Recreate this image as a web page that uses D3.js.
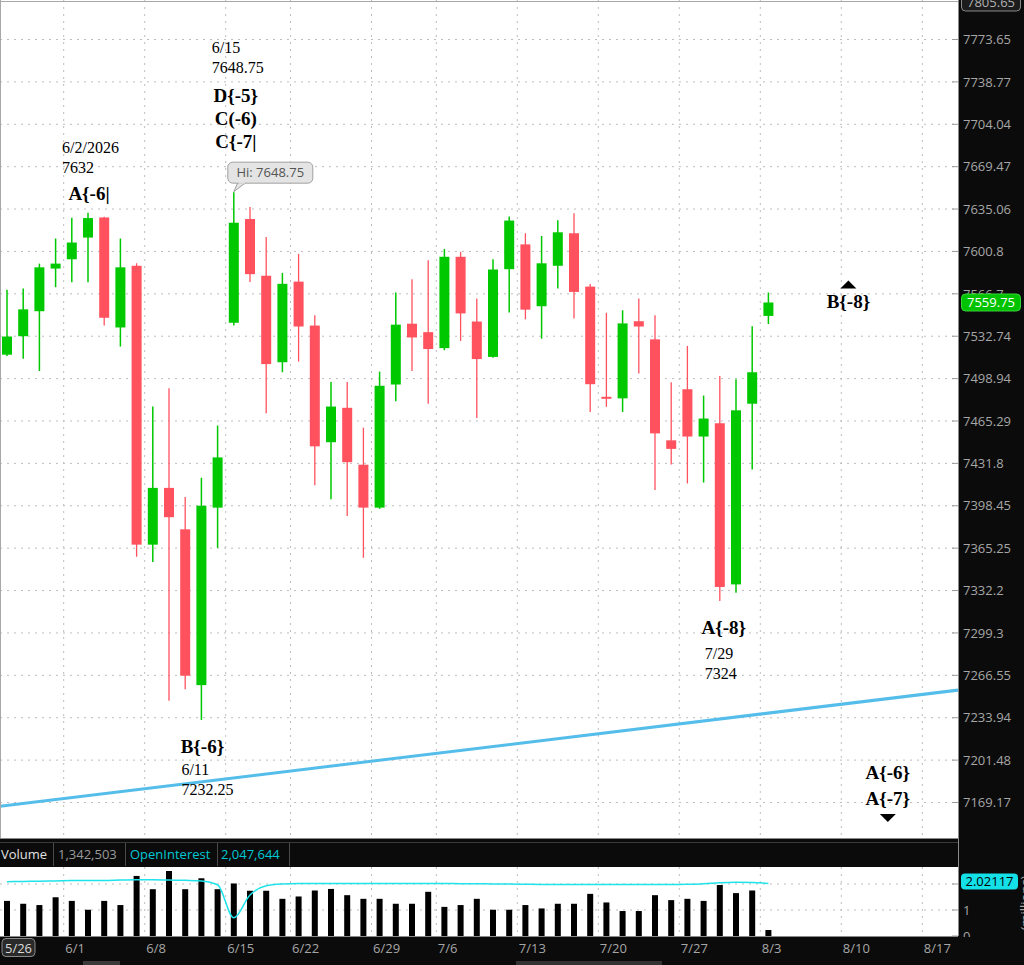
<!DOCTYPE html>
<html>
<head>
<meta charset="utf-8">
<script src="https://cdnjs.cloudflare.com/ajax/libs/d3/7.8.5/d3.min.js"></script>
<style>
  body { margin: 0; background: #fff; overflow: hidden; }
  svg { display: block; }
</style>
</head>
<body>
<div id="chart"></div>
<script>
// trading days shown on the chart (last ones are empty future slots)
const dates = ["5/26","5/27","5/28","5/29","6/1","6/2","6/3","6/4","6/5","6/8","6/9","6/10","6/11","6/12",
  "6/15","6/16","6/17","6/18","6/22","6/23","6/24","6/25","6/26","6/29","6/30","7/1","7/2","7/6","7/7","7/8",
  "7/9","7/10","7/13","7/14","7/15","7/16","7/17","7/20","7/21","7/22","7/23","7/24","7/27","7/28","7/29",
  "7/30","7/31","8/3","8/4","8/5","8/6","8/7","8/10","8/11","8/12","8/13","8/14","8/17","8/18"]
const weekStarts = ["5/26","6/1","6/8","6/15","6/22","6/29","7/6","7/13","7/20","7/27","8/3","8/10","8/17"]

const opens  = [7518,7532.75,7552.75,7587,7594.5,7612,7628.25,7539.75,7589.25,7368,7412.5,7380,7259,7397,
  7543.5,7627,7581.25,7512,7576.5,7541.25,7448.5,7475.75,7430.75,7397,7494.25,7542.75,7536,7523.25,7596.5,
  7544.5,7516.25,7586.5,7606.5,7556.75,7589.25,7615.5,7572.5,7484.5,7483.25,7544.75,7530.25,7450,7490.5,
  7453,7463.5,7337,7479,7549]
const highs  = [7570,7571,7591,7611.25,7628,7632,7628.75,7611.25,7591.25,7476.75,7491.25,7405.25,7420.5,7461.75,
  7648.75,7636.75,7612.5,7583.5,7598.75,7549.5,7496.25,7496.25,7460,7504.5,7567.75,7578.5,7593.75,7602.75,
  7600.5,7563,7594.5,7629,7615.5,7613.25,7626,7631.75,7574.5,7551.5,7553.5,7563,7549.5,7496,7525,7485.5,
  7501,7498.5,7540.75,7567.75]
const lows   = [7517,7514.75,7505,7572,7576,7576,7541.25,7524.5,7358.5,7354.5,7247,7255.75,7232.25,7365.5,
  7541.25,7576.25,7471.5,7504,7512.5,7414.5,7403.5,7390.5,7357.75,7396,7481,7505,7479,7521.5,7529,7467.75,
  7515.5,7551.75,7546.25,7530.75,7571,7547,7472.5,7476.5,7472.5,7503,7410.75,7431,7416,7416.75,7324,
  7330.5,7427,7542.5]
const closes = [7532.5,7554.25,7588,7591,7608,7627.75,7547.5,7588,7368,7412.5,7389.5,7266.25,7398.5,7436.5,
  7624,7582.5,7510.5,7574.75,7540.5,7445.25,7476.75,7432.75,7397,7493.25,7542,7531.75,7522.5,7596.5,7551,
  7514.5,7586.25,7625.75,7554,7591.25,7616.25,7568.25,7494.5,7483,7543,7540.5,7455.5,7443.25,7453,7467.25,
  7335,7473.75,7504,7559.75]

// volume and open interest, millions
const volumes = [1.35,1.24,1.19,1.49,1.35,1.01,1.35,1.19,2.31,1.80,2.50,1.80,2.22,1.80,2.02,1.74,1.74,1.43,
  1.52,1.75,1.81,1.57,1.43,1.43,1.24,1.24,1.70,1.12,1.19,1.43,1.01,1.01,1.19,1.06,1.24,1.24,1.62,1.29,0.96,
  0.96,1.57,1.38,1.43,1.35,1.96,1.65,1.75,0.23]
const openInterest = [2.09,2.10,2.11,2.12,2.13,2.13,2.13,2.15,2.16,2.16,2.15,2.14,2.12,1.97,0.70,1.58,1.93,
  2.00,2.02,2.02,2.02,2.02,2.02,2.02,2.02,2.02,2.02,2.02,2.01,2.01,2.00,2.00,1.99,1.98,1.98,1.98,1.98,1.98,
  1.98,1.98,1.98,1.98,1.99,2.01,2.05,2.07,2.06,2.02117]

const priceTicks = [7773.65,7738.77,7704.04,7669.47,7635.06,7600.8,7566.7,7532.74,7498.94,7465.29,7431.8,
  7398.45,7365.25,7332.2,7299.3,7266.55,7233.94,7201.48,7169.17]
const topPrice = 7805.65
const volTicks = [0, 1, 2]

// trendline anchors (bar index, price)
const trendIdx = [0, 58]
const trendPrice = [7167, 7254.1]

const swingNotes = [["6/2/2026","7632"], ["6/15","7648.75"], ["6/11","7232.25"], ["7/29","7324"]]
const swingTags = [["A{-6|"], ["D{-5}","C(-6)","C{-7|"], ["B{-6}"], ["A{-8}"]]
const futureTagUp = "B{-8}"
const futureTagsDown = ["A{-6}","A{-7}"]

const volHeader = ["Volume", "1,342,503", "OpenInterest", "2,047,644"]

const width = 1024, height = 965
const plotRight = 958, mainBottom = 838
const volTop = 867, volBottom = 936

const green = "#00c800", red = "#ff525e"
const grid = "#bdbdbd"
const serif = "'Liberation Serif', 'Times New Roman', serif"

let svg = d3.select("#chart").append("svg")
  .attr("width", width)
  .attr("height", height)
  .style("font-family", "'Open Sans', sans-serif")

let x = d3.scaleLinear().domain([0, 58]).range([7, 7 + 58 * 16.2])
let step = x(1) - x(0)
let y = d3.scaleLog().domain([7169.17, 7773.65]).range([802.5, 39.5])
let yVol = d3.scaleLinear().domain([0, 1]).range([volBottom, volBottom - 26])

let weekIdx = weekStarts.map(d => dates.indexOf(d))
let gx = i => x(i) - step / 2

svg.append("defs").append("clipPath").attr("id", "main-clip")
  .append("rect").attr("x", 0).attr("y", 0).attr("width", plotRight).attr("height", mainBottom)

// ---- main price panel ----
let main = svg.append("g").attr("clip-path", "url(#main-clip)")

main.selectAll(".hgrid")
  .data(priceTicks)
  .enter()
  .append("line")
  .attr("x1", 0).attr("x2", plotRight)
  .attr("y1", d => y(d)).attr("y2", d => y(d))
  .attr("stroke", grid).attr("stroke-dasharray", "2,5")

main.selectAll(".vgrid")
  .data(weekIdx)
  .enter()
  .append("line")
  .attr("x1", d => gx(d)).attr("x2", d => gx(d))
  .attr("y1", 0).attr("y2", mainBottom)
  .attr("stroke", grid).attr("stroke-dasharray", "2,5")

// trendline, straight on the log scale
let lt0 = Math.log(trendPrice[0]), lt1 = Math.log(trendPrice[1])
let trendAt = i => Math.exp(lt0 + (lt1 - lt0) * (i - trendIdx[0]) / (trendIdx[1] - trendIdx[0]))
let iLeft = x.invert(0), iRight = x.invert(plotRight)
main.append("line")
  .attr("x1", 0).attr("y1", y(trendAt(iLeft)))
  .attr("x2", plotRight).attr("y2", y(trendAt(iRight)))
  .attr("stroke", "#55bdea").attr("stroke-width", 3)

// candles
let candles = main.selectAll(".candle")
  .data(opens.map((o, i) => ({ i: i, o: o, h: highs[i], l: lows[i], c: closes[i] })))
  .enter()
  .append("g")

candles.append("line")
  .attr("x1", d => x(d.i)).attr("x2", d => x(d.i))
  .attr("y1", d => y(d.h)).attr("y2", d => y(d.l))
  .attr("stroke", d => d.c >= d.o ? green : red)
  .attr("stroke-width", d => d.c >= d.o ? 1.5 : 1.3)

candles.append("rect")
  .attr("x", d => x(d.i) - 5)
  .attr("width", 10)
  .attr("y", d => y(Math.max(d.o, d.c)))
  .attr("height", d => Math.max(2, Math.abs(y(d.o) - y(d.c))))
  .attr("fill", d => d.c >= d.o ? green : red)

// frame lines
svg.append("line").attr("x1", 0.5).attr("x2", 0.5).attr("y1", 0).attr("y2", mainBottom).attr("stroke", "#a8a8a8")
svg.append("line").attr("x1", 0).attr("x2", plotRight).attr("y1", 1.5).attr("y2", 1.5).attr("stroke", "#a8a8a8")

// ---- annotations ----
function notes(x0, ys, lines) {
  lines.forEach((t, k) => {
    svg.append("text").attr("x", x0).attr("y", ys[k])
      .attr("font-family", serif).attr("font-size", 16).attr("fill", "#000").text(t)
  })
}
function tags(cx, ys, lines) {
  lines.forEach((t, k) => {
    svg.append("text").attr("x", cx).attr("y", ys[k]).attr("text-anchor", "middle")
      .attr("font-family", serif).attr("font-size", 19).attr("font-weight", "bold").attr("fill", "#000").text(t)
  })
}

let h5 = y(highs[5])
notes(x(5) - 26, [h5 - 60, h5 - 40], swingNotes[0])
tags(x(5) + 1, [h5 - 13], swingTags[0])

let h14 = y(highs[14])
notes(x(14) - 22, [h14 - 139, h14 - 119], swingNotes[1])
tags(x(14) + 2, [h14 - 90, h14 - 67, h14 - 44], swingTags[1])

let l12 = y(lows[12])
tags(x(12) + 1, [l12 + 33], swingTags[2])
notes(x(12) - 20, [l12 + 55, l12 + 75], swingNotes[2])

let l44 = y(lows[44])
tags(x(44) + 4, [l44 + 33], swingTags[3])
notes(x(44) - 15, [l44 + 58, l44 + 78], swingNotes[3])

// future marks
let bx = x(52) - 1, by = y(closes[closes.length - 1])
svg.append("path").attr("d", `M${bx - 8},${by - 14} L${bx},${by - 22} L${bx + 8},${by - 14} Z`).attr("fill", "#000")
tags(bx, [by + 6], [futureTagUp])

let ax = x(54) + 6
tags(ax, [mainBottom - 59, mainBottom - 33], futureTagsDown)
svg.append("path").attr("d", `M${ax - 8},${mainBottom - 24} L${ax + 8},${mainBottom - 24} L${ax},${mainBottom - 16} Z`).attr("fill", "#000")

// high tooltip on 6/15
let tx = x(14)
let tip = svg.append("g")
tip.append("path")
  .attr("d", `M${tx + 4},${h14 - 9.5} L${tx},${h14 - 0.5} L${tx + 12},${h14 - 9.5}`)
  .attr("fill", "#e4e4e4").attr("stroke", "#a0a0a0")
tip.append("rect")
  .attr("x", tx - 6).attr("y", h14 - 30).attr("width", 85).attr("height", 21).attr("rx", 5)
  .attr("fill", "#e4e4e4").attr("stroke", "#a0a0a0")
tip.append("rect").attr("x", tx + 4.8).attr("y", h14 - 10).attr("width", 6.4).attr("height", 1.5).attr("fill", "#e4e4e4")
tip.append("text").attr("x", tx + 36.5).attr("y", h14 - 15).attr("text-anchor", "middle")
  .attr("font-size", 13).attr("fill", "#555").text("Hi: " + highs[14])

// ---- volume header bar ----
svg.append("rect").attr("x", 0).attr("y", mainBottom).attr("width", width).attr("height", volTop - mainBottom).attr("fill", "#0b0b0b")
svg.append("line").attr("x1", 0).attr("x2", plotRight).attr("y1", mainBottom + 0.5).attr("y2", mainBottom + 0.5).attr("stroke", "#8a8a8a")
svg.append("line").attr("x1", 0).attr("x2", plotRight).attr("y1", 842.5).attr("y2", 842.5).attr("stroke", "#3a3a3a")
let headX = [1, 58, 130, 221]
let headColor = ["#e2e2e2", "#9a9a9a", "#00c8d2", "#00c8d2"]
volHeader.forEach((t, k) => {
  svg.append("text").attr("x", headX[k]).attr("y", 858.5).attr("font-size", 13)
    .attr("fill", headColor[k]).text(t)
})
;[53.5, 125.5, 217.5, 289.5].forEach(sx => {
  svg.append("line").attr("x1", sx).attr("x2", sx).attr("y1", 843).attr("y2", volTop - 1).attr("stroke", "#4a4a4a")
})

// ---- volume panel ----
let vol = svg.append("g")
vol.append("rect").attr("x", 0).attr("y", volTop).attr("width", plotRight).attr("height", volBottom - volTop).attr("fill", "#fff")
vol.selectAll(".vh")
  .data(volTicks.slice(1))
  .enter()
  .append("line")
  .attr("x1", 0).attr("x2", plotRight)
  .attr("y1", d => yVol(d)).attr("y2", d => yVol(d))
  .attr("stroke", grid).attr("stroke-dasharray", "2,5")
vol.selectAll(".vv")
  .data(weekIdx)
  .enter()
  .append("line")
  .attr("x1", d => gx(d)).attr("x2", d => gx(d))
  .attr("y1", volTop).attr("y2", volBottom)
  .attr("stroke", grid).attr("stroke-dasharray", "2,5")

vol.selectAll(".vbar")
  .data(volumes)
  .enter()
  .append("rect")
  .attr("x", (d, i) => x(i) - 3)
  .attr("width", 6)
  .attr("y", d => yVol(d))
  .attr("height", d => volBottom - yVol(d))
  .attr("fill", "#000")

let oiLine = d3.line()
  .x((d, i) => x(i))
  .y(d => yVol(d))
  .curve(d3.curveMonotoneX)
vol.append("path")
  .datum(openInterest)
  .attr("d", oiLine)
  .attr("fill", "none")
  .attr("stroke", "#1fe3ea")
  .attr("stroke-width", 1.5)

// ---- right price axis ----
svg.append("rect").attr("x", plotRight).attr("y", 0).attr("width", width - plotRight).attr("height", height).attr("fill", "#0b0b0b")
svg.append("line").attr("x1", plotRight + 0.5).attr("x2", plotRight + 0.5).attr("y1", 0).attr("y2", volBottom).attr("stroke", "#8a8a8a")

svg.selectAll(".ptick")
  .data(priceTicks)
  .enter()
  .append("line")
  .attr("x1", 952).attr("x2", plotRight)
  .attr("y1", d => y(d)).attr("y2", d => y(d))
  .attr("stroke", "#9a9a9a")

let yAxis = d3.axisRight(y).tickValues(priceTicks).tickSize(0).tickPadding(5).tickFormat(d => String(d))
let yAxisG = svg.append("g").attr("transform", `translate(${plotRight},0)`).call(yAxis)
yAxisG.select(".domain").remove()
yAxisG.selectAll("text").attr("fill", "#a6a6a6").attr("font-size", 13).attr("font-family", "'Open Sans', sans-serif")

// top of range box
svg.append("rect").attr("x", 961.5).attr("y", -6).attr("width", 59).attr("height", 17).attr("rx", 4)
  .attr("fill", "#1c1c1c").attr("stroke", "#8a8a8a")
svg.append("text").attr("x", 991).attr("y", 7).attr("text-anchor", "middle").attr("font-size", 13)
  .attr("fill", "#b0b0b0").text(topPrice)

// last price box
let lastY = y(closes[closes.length - 1])
svg.append("rect").attr("x", 961.5).attr("y", lastY - 8.5).attr("width", 59).attr("height", 17).attr("rx", 4)
  .attr("fill", "#00c300").attr("stroke", "#3ad43a")
svg.append("text").attr("x", 991).attr("y", lastY + 4.5).attr("text-anchor", "middle").attr("font-size", 13)
  .attr("fill", "#fff").text(closes[closes.length - 1])

// volume axis
let vAxis = d3.axisRight(yVol).tickValues(volTicks).tickSize(0).tickPadding(5).tickFormat(d3.format("d"))
let vAxisG = svg.append("g").attr("transform", `translate(${plotRight},0)`).call(vAxis)
vAxisG.select(".domain").remove()
vAxisG.selectAll("text").attr("fill", "#a6a6a6").attr("font-size", 13).attr("font-family", "'Open Sans', sans-serif")
vAxisG.selectAll(".tick").filter(d => d === 2).remove()
svg.selectAll(".vtick")
  .data(volTicks)
  .enter()
  .append("line")
  .attr("x1", 952).attr("x2", plotRight)
  .attr("y1", d => yVol(d)).attr("y2", d => yVol(d))
  .attr("stroke", "#9a9a9a")

let oiLast = openInterest[openInterest.length - 1]
let oiY = yVol(oiLast) - 2
svg.append("rect").attr("x", 961).attr("y", oiY - 8).attr("width", 57).attr("height", 16).attr("rx", 4).attr("fill", "#14e0e8")
svg.append("text").attr("x", 989.5).attr("y", oiY + 4.5).attr("text-anchor", "middle").attr("font-size", 13)
  .attr("fill", "#000").text(oiLast)

svg.append("text").attr("transform", "translate(1030,903) rotate(-90)").attr("text-anchor", "middle")
  .attr("font-size", 13).attr("fill", "#a6a6a6").text("(millions)")

// ---- date axis ----
svg.append("rect").attr("x", 0).attr("y", volBottom + 1).attr("width", width).attr("height", height - volBottom - 1).attr("fill", "#0b0b0b")
svg.append("line").attr("x1", 0).attr("x2", plotRight).attr("y1", volBottom + 0.5).attr("y2", volBottom + 0.5).attr("stroke", "#8a8a8a")

let xAxis = d3.axisBottom(x).tickValues(weekIdx.slice(1)).tickSize(0).tickFormat(i => dates[i])
let xAxisG = svg.append("g").attr("transform", `translate(0,${volBottom})`).call(xAxis)
xAxisG.select(".domain").remove()
xAxisG.selectAll("text")
  .attr("text-anchor", "start")
  .attr("x", -step / 2 + 1)
  .attr("y", 17).attr("dy", null)
  .attr("fill", "#a6a6a6").attr("font-size", 13).attr("font-family", "'Open Sans', sans-serif")

svg.append("rect").attr("x", 2).attr("y", 938.5).attr("width", 33).attr("height", 18).attr("rx", 4)
  .attr("fill", "#2a2a2a").attr("stroke", "#8a8a8a")
svg.append("text").attr("x", 18.5).attr("y", 953).attr("text-anchor", "middle").attr("font-size", 13)
  .attr("fill", "#dcdcdc").text(dates[0])

// scrollbar bits along the bottom edge
svg.append("rect").attr("x", 83).attr("y", 961).attr("width", 37).attr("height", 4).attr("fill", "#3a3a3a")
svg.append("rect").attr("x", 516).attr("y", 961).attr("width", 146).attr("height", 4).attr("fill", "#333")
</script>
</body>
</html>
